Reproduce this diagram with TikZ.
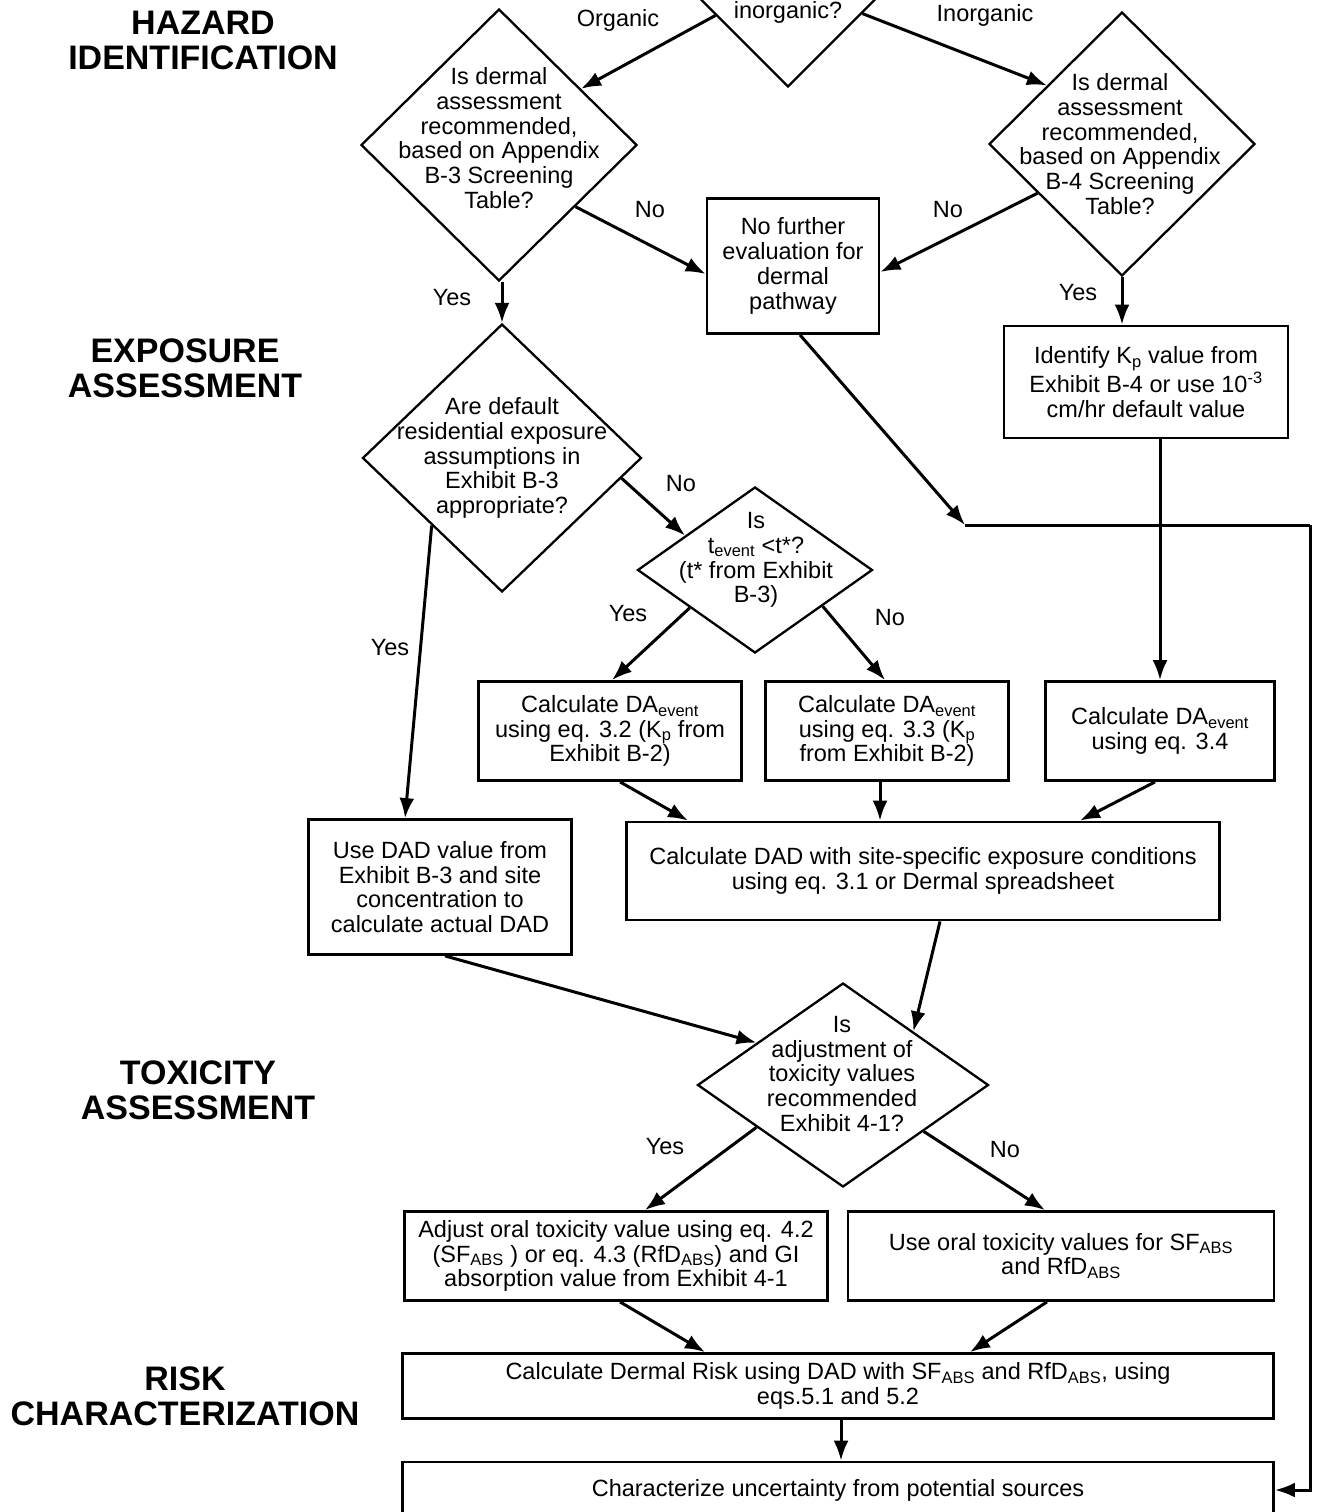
\documentclass[tikz,border=0pt]{standalone}
\usepackage{fontspec}
\setmainfont{Liberation Sans}
\usetikzlibrary{calc}
\usetikzlibrary{arrows.meta}
\usetikzlibrary{shapes.geometric}

\begin{document}
\begin{tikzpicture}[x=1pt,y=-1pt,font=\fontsize{23.5}{24.8}\selectfont,
    box/.style={draw,line width=2.8pt,align=center,inner sep=0pt},
    dia/.style={draw,diamond,line width=2.3pt,inner sep=0pt},
    txt/.style={align=center,inner sep=0pt},
    head/.style={align=center,inner sep=0pt,font=\fontsize{34}{35}\selectfont\bfseries},
    arr/.style={line width=3pt,-{Latex[length=20pt,width=15pt]}},
    ln/.style={line width=3pt}]
                    \useasboundingbox (0,0) rectangle (1328,1512);
                    \clip (0,0) rectangle (1328,1512);
                    \node[head] (hazard) at (203,40) {HAZARD\\IDENTIFICATION};
                    \node[head] (expo) at (185,368) {EXPOSURE\\ASSESSMENT};
                    \node[head] (toxi) at (198,1090) {TOXICITY\\ASSESSMENT};
                    \node[head] (riskc) at (185,1396) {RISK\\CHARACTERIZATION};
                    \node[dia,minimum width=184,minimum height=184] (org) at (788,-5) {};
                    \node[txt] (orgt) at (788,0) {Organic or\\inorganic?};
                    \node[dia,minimum width=276,minimum height=272] (dermA) at (499,145) {};
                    \node[txt] (dermAt) at (499,138) {Is dermal\\assessment\\recommended,\\based on Appendix\\B-3 Screening\\Table?};
                    \node[dia,minimum width=266,minimum height=264] (dermB) at (1122,144) {};
                    \node[txt] (dermBt) at (1120,144) {Is dermal\\assessment\\recommended,\\based on Appendix\\B-4 Screening\\Table?};
                    \node[box,minimum width=172,minimum height=135] (nofur) at (793,266) {No further\\evaluation for\\dermal\\pathway};
                    \node[box,minimum width=284,minimum height=112] (kp) at (1146,382) {Identify K\textsubscript{p} value from\\Exhibit B-4 or use 10\textsuperscript{-3}\\cm/hr default value};
                    \node[dia,minimum width=279,minimum height=268] (defres) at (502,458) {};
                    \node[txt] (defrest) at (502,458) {Are default\\residential exposure\\assumptions in\\Exhibit B-3\\appropriate?};
                    \node[dia,minimum width=235,minimum height=166] (tevent) at (755,570) {};
                    \node[txt] (teventt) at (756,560) {Is\\t\textsubscript{event} {<}t*?\\(t* from Exhibit\\B-3)};
                    \node[box,minimum width=263,minimum height=99] (calcA) at (610,731) {Calculate DA\textsubscript{event}\\using eq. 3.2 (K\textsubscript{p} from\\Exhibit B-2)};
                    \node[box,minimum width=243,minimum height=99] (calcB) at (887,731) {Calculate DA\textsubscript{event}\\using eq. 3.3 (K\textsubscript{p}\\from Exhibit B-2)};
                    \node[box,minimum width=229,minimum height=99] (calcC) at (1160,731) {Calculate DA\textsubscript{event}\\using eq. 3.4};
                    \node[box,minimum width=263,minimum height=135] (usedad) at (440,887) {Use DAD value from\\Exhibit B-3 and site\\concentration to\\calculate actual DAD};
                    \node[box,minimum width=593,minimum height=98] (dadsite) at (923,871) {Calculate DAD with site-specific exposure conditions\\using eq. 3.1 or Dermal spreadsheet};
                    \node[dia,minimum width=291,minimum height=204] (adjust) at (843,1085) {};
                    \node[txt] (adjustt) at (842,1074) {Is\\adjustment of\\toxicity values\\recommended\\Exhibit 4-1?};
                    \node[box,minimum width=423,minimum height=89] (adjoral) at (616,1256) {Adjust oral toxicity value using eq. 4.2\\(SF\textsubscript{ABS} ) or eq. 4.3 (RfD\textsubscript{ABS}) and GI\\absorption value from Exhibit 4-1};
                    \node[box,minimum width=426,minimum height=89] (useoral) at (1061,1256) {Use oral toxicity values for SF\textsubscript{ABS}\\and RfD\textsubscript{ABS}};
                    \node[box,minimum width=871,minimum height=65] (risk) at (838,1386) {Calculate Dermal Risk using DAD with SF\textsubscript{ABS} and RfD\textsubscript{ABS}, using\\eqs.5.1 and 5.2};
                    \node[box,minimum width=871,minimum height=56] (uncert) at (838,1490) {Characterize uncertainty from potential sources};
                    \node[txt] (lorg) at (618,20) {Organic};
                    \node[txt] (linorg) at (985,15) {Inorganic};
                    \node[txt] (lnoA) at (650,210) {No};
                    \node[txt] (lnoB) at (948,210) {No};
                    \node[txt] (lyesA) at (452,298) {Yes};
                    \node[txt] (lyesB) at (1078,293) {Yes};
                    \node[txt] (lnoC) at (681,484) {No};
                    \node[txt] (lyesC) at (390,648) {Yes};
                    \node[txt] (lyesD) at (628,614) {Yes};
                    \node[txt] (lnoD) at (890,618) {No};
                    \node[txt] (lyesE) at (665,1147) {Yes};
                    \node[txt] (lnoE) at (1005,1150) {No};
                    \coordinate (junc) at (965,525);
                    \coordinate (rside) at (1310,525);
                    \draw[arr] ($(org.west)!0.22!(org.south)$) -- ($(dermA.north)!0.59!(dermA.east)$);
                    \draw[arr] ($(org.east)!0.2!(org.south)$) -- ($(dermB.north)!0.56!(dermB.west)$);
                    \draw[arr] ($(dermA.east)!0.45!(dermA.south)$) -- ([yshift=-8pt]nofur.west);
                    \draw[arr] ($(dermB.west)!0.37!(dermB.south)$) -- ([yshift=-6pt]nofur.east);
                    \draw[arr] (defres.north |- dermA.south) -- (defres.north);
                    \draw[arr] (dermB.south) -- (dermB.south |- kp.north);
                    \draw[arr] ([xshift=7pt]nofur.south) -- (junc);
                    \draw[ln] (junc) -- (rside);
                    \draw[arr] (rside) |- (uncert.east);
                    \draw[arr] (calcC.north |- kp.south) -- (calcC.north);
                    \draw[arr] ($(defres.west)!0.5!(defres.south)$) -- ([xshift=-35pt]usedad.north);
                    \draw[arr] ($(defres.east)!0.15!(defres.south)$) -- ($(tevent.north)!0.59!(tevent.west)$);
                    \draw[arr] ($(tevent.west)!0.45!(tevent.south)$) -- ([xshift=2pt]calcA.north);
                    \draw[arr] ($(tevent.east)!0.43!(tevent.south)$) -- ([xshift=-2pt]calcB.north);
                    \draw[arr] ([xshift=10pt]calcA.south) -- ([xshift=-235pt]dadsite.north);
                    \draw[arr] ([xshift=-7pt]calcB.south) -- ([xshift=-7pt]calcB.south |- dadsite.north);
                    \draw[arr] ([xshift=-5pt]calcC.south) -- ([xshift=157pt]dadsite.north);
                    \draw[arr] ([xshift=17pt]dadsite.south) -- ($(adjust.north)!0.48!(adjust.east)$);
                    \draw[arr] ([xshift=5pt]usedad.south) -- ($(adjust.north)!0.59!(adjust.west)$);
                    \draw[arr] ($(adjust.west)!0.41!(adjust.south)$) -- ([xshift=29pt]adjoral.north);
                    \draw[arr] ($(adjust.east)!0.45!(adjust.south)$) -- ([xshift=-16pt]useoral.north);
                    \draw[arr] ([xshift=4pt]adjoral.south) -- ([xshift=-133pt]risk.north);
                    \draw[arr] ([xshift=-14pt]useoral.south) -- ([xshift=132pt]risk.north);
                    \draw[arr] ([xshift=3pt]risk.south) -- ([xshift=3pt]uncert.north);
                \end{tikzpicture}
\end{document}
